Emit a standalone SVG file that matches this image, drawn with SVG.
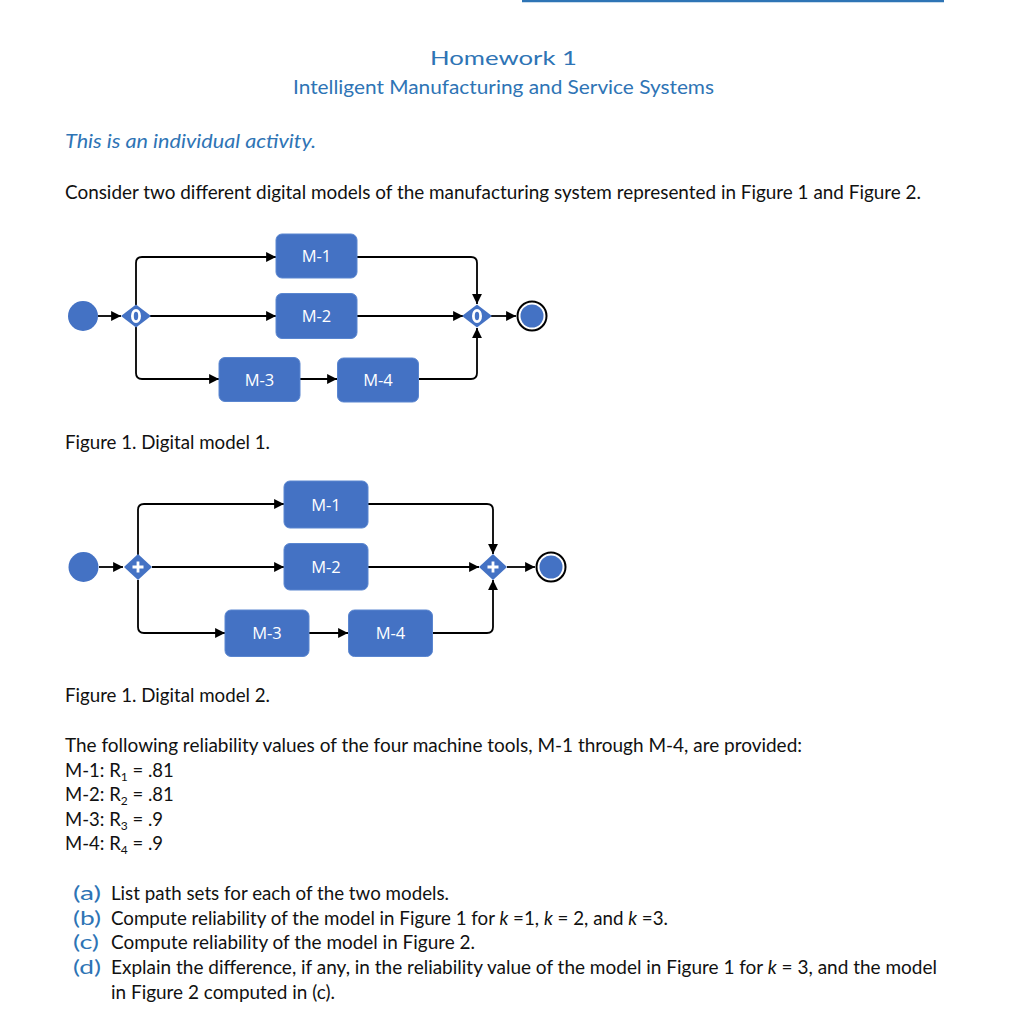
<svg xmlns="http://www.w3.org/2000/svg" width="1017" height="1024" viewBox="0 0 1017 1024">
<style>
.t{font-family:Lato,"Open Sans","Liberation Sans",sans-serif;fill:#111;font-size:18.5px}
.b{fill:#2E74B5}
.n{fill:#4472C4;stroke:#5a86d0;stroke-width:1}
.nl{font-family:"Open Sans","Liberation Sans",sans-serif;fill:#fff;font-size:16.5px;text-anchor:middle}
.c{fill:none;stroke:#000;stroke-width:1.8;marker-end:url(#ah)}
.gw{fill:#4472C4}
.gm{fill:none;stroke:#fff;stroke-width:2.8}
</style>
<defs>
<marker id="ah" viewBox="0 0 10 10" refX="10" refY="5" markerWidth="5.5" markerHeight="5.5" orient="auto" markerUnits="strokeWidth">
<path d="M0,0 L10,5 L0,10 z" fill="#000"/>
</marker>
</defs>
<rect width="1017" height="1024" fill="#fff"/>
<line x1="522" y1="1" x2="944" y2="1" stroke="#2E74B5" stroke-width="2.5"/>
<text class="t b" x="503.5" y="65" font-size="30" text-anchor="middle" textLength="147" lengthAdjust="spacingAndGlyphs">Homework 1</text>
<text class="t b" x="503.5" y="94" font-size="20" text-anchor="middle" textLength="421" lengthAdjust="spacingAndGlyphs">Intelligent Manufacturing and Service Systems</text>
<text class="t b" x="65" y="148" font-size="20" font-style="italic" textLength="251" lengthAdjust="spacingAndGlyphs">This is an individual activity.</text>
<text class="t" x="65" y="199" textLength="856" lengthAdjust="spacingAndGlyphs">Consider two different digital models of the manufacturing system represented in Figure 1 and Figure 2.</text>

<!-- Figure 1 -->
<g id="connectors1">
<path class="c" d="M98,316 L121,316"/>
<path class="c" d="M136,305 L136,263 Q136,257 142,257 L276,257"/>
<path class="c" d="M150,316 L276,316"/>
<path class="c" d="M136,327 L136,373 Q136,379 142,379 L219,379"/>
<path class="c" d="M300,379 L337,379"/>
<path class="c" d="M418,379 L471,379 Q477,379 477,373 L477,328"/>
<path class="c" d="M357,257 L471,257 Q477,257 477,263 L477,304"/>
<path class="c" d="M357,316 L463,316"/>
<path class="c" d="M491,316 L516,316"/>
</g>
<g id="f1-start"><circle cx="83" cy="316" r="15" fill="#4472C4"/></g>
<g id="f1-gw1"><path class="gw" d="M121,316 L136,304.5 L151,316 L136,327.5 z"/><ellipse class="gm" cx="136" cy="316" rx="3.6" ry="5.6"/></g>
<g id="f1-m1"><rect class="n" x="276" y="234" width="81" height="44" rx="6"/><text class="nl" x="316.5" y="262">M-1</text></g>
<g id="f1-m2"><rect class="n" x="276" y="293.5" width="81" height="45" rx="6"/><text class="nl" x="316.5" y="322">M-2</text></g>
<g id="f1-m3"><rect class="n" x="219" y="357.5" width="81" height="44" rx="6"/><text class="nl" x="259.5" y="385.5">M-3</text></g>
<g id="f1-m4"><rect class="n" x="337.5" y="358" width="81" height="44" rx="6"/><text class="nl" x="378" y="385.5">M-4</text></g>
<g id="f1-gw2"><path class="gw" d="M462,316 L477,304.5 L492,316 L477,327.5 z"/><ellipse class="gm" cx="477" cy="316" rx="3.6" ry="5.6"/></g>
<g id="f1-end"><circle cx="532" cy="316" r="14.5" fill="#fff" stroke="#000" stroke-width="2"/><circle cx="532" cy="316" r="11.5" fill="#4472C4"/></g>
<text class="t" x="65" y="449" textLength="205" lengthAdjust="spacingAndGlyphs">Figure 1. Digital model 1.</text>

<!-- Figure 2 -->
<g id="connectors2">
<path class="c" d="M99,567 L123,567"/>
<path class="c" d="M138,555 L138,510 Q138,504 144,504 L284,504"/>
<path class="c" d="M152,567 L284,567"/>
<path class="c" d="M138,580 L138,627 Q138,633 144,633 L225,633"/>
<path class="c" d="M309,633 L348,633"/>
<path class="c" d="M433,633 L487,633 Q493,633 493,627 L493,580"/>
<path class="c" d="M368,504 L487,504 Q493,504 493,510 L493,554"/>
<path class="c" d="M368,567 L479,567"/>
<path class="c" d="M507,567 L535,567"/>
</g>
<g id="f2-start"><circle cx="83.5" cy="567" r="15" fill="#4472C4"/></g>
<g id="f2-gw1"><path class="gw" d="M124,567 L138,554 L152,567 L138,580 z"/><path class="gm" d="M132.5,567 H143.5 M138,561.5 V572.5"/></g>
<g id="f2-m1"><rect class="n" x="284" y="481" width="84" height="47" rx="6"/><text class="nl" x="326" y="510.5">M-1</text></g>
<g id="f2-m2"><rect class="n" x="284" y="543.5" width="84" height="46.5" rx="6"/><text class="nl" x="326" y="573">M-2</text></g>
<g id="f2-m3"><rect class="n" x="225" y="610" width="84" height="46.5" rx="6"/><text class="nl" x="267" y="639">M-3</text></g>
<g id="f2-m4"><rect class="n" x="348.5" y="610" width="84" height="46.5" rx="6"/><text class="nl" x="390.5" y="639">M-4</text></g>
<g id="f2-gw2"><path class="gw" d="M479,567 L493,554 L507,567 L493,580 z"/><path class="gm" d="M487.5,567 H498.5 M493,561.5 V572.5"/></g>
<g id="f2-end"><circle cx="551" cy="567" r="14.5" fill="#fff" stroke="#000" stroke-width="2"/><circle cx="551" cy="567" r="11.5" fill="#4472C4"/></g>
<text class="t" x="65" y="702" textLength="205" lengthAdjust="spacingAndGlyphs">Figure 1. Digital model 2.</text>

<text class="t" x="65" y="752" textLength="737" lengthAdjust="spacingAndGlyphs">The following reliability values of the four machine tools, M-1 through M-4, are provided:</text>
<text class="t" x="65" y="777">M-1: R<tspan font-size="12" dy="4">1</tspan><tspan dy="-4"> = .81</tspan></text>
<text class="t" x="65" y="801">M-2: R<tspan font-size="12" dy="4">2</tspan><tspan dy="-4"> = .81</tspan></text>
<text class="t" x="65" y="826">M-3: R<tspan font-size="12" dy="4">3</tspan><tspan dy="-4"> = .9</tspan></text>
<text class="t" x="65" y="850">M-4: R<tspan font-size="12" dy="4">4</tspan><tspan dy="-4"> = .9</tspan></text>

<text class="t b" x="73" y="900" textLength="28" lengthAdjust="spacingAndGlyphs">(a)</text>
<text class="t" x="111" y="900" textLength="338" lengthAdjust="spacingAndGlyphs">List path sets for each of the two models.</text>
<text class="t b" x="73" y="925" textLength="28" lengthAdjust="spacingAndGlyphs">(b)</text>
<text class="t" x="111" y="925" textLength="557" lengthAdjust="spacingAndGlyphs">Compute reliability of the model in Figure 1 for <tspan font-style="italic">k</tspan> =1, <tspan font-style="italic">k</tspan> = 2, and <tspan font-style="italic">k</tspan> =3.</text>
<text class="t b" x="73" y="949" textLength="26" lengthAdjust="spacingAndGlyphs">(c)</text>
<text class="t" x="111" y="949" textLength="364" lengthAdjust="spacingAndGlyphs">Compute reliability of the model in Figure 2.</text>
<text class="t b" x="73" y="974" textLength="28" lengthAdjust="spacingAndGlyphs">(d)</text>
<text class="t" x="111" y="974" textLength="826" lengthAdjust="spacingAndGlyphs">Explain the difference, if any, in the reliability value of the model in Figure 1 for <tspan font-style="italic">k</tspan> = 3, and the model</text>
<text class="t" x="111" y="999" textLength="224" lengthAdjust="spacingAndGlyphs">in Figure 2 computed in (c).</text>
</svg>
